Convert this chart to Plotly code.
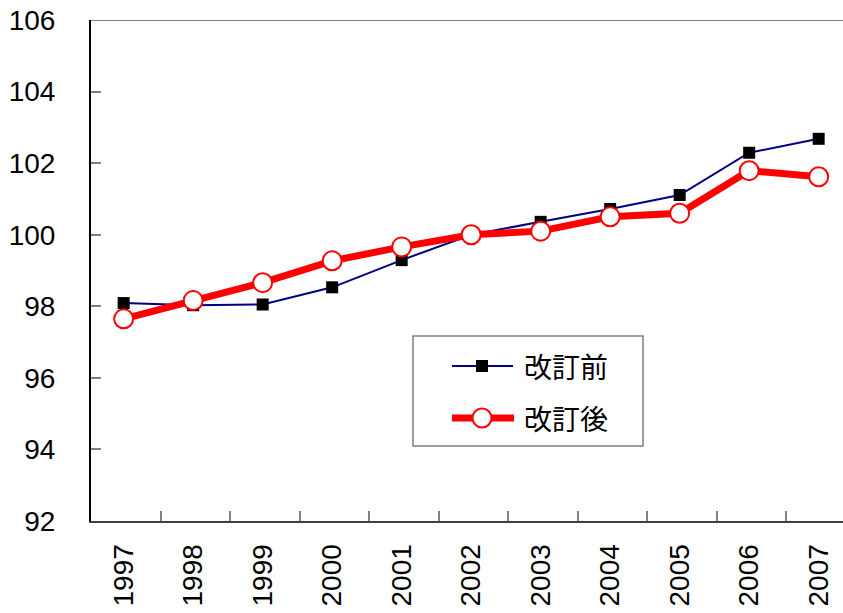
import plotly.graph_objects as go

years = ["1997", "1998", "1999", "2000", "2001", "2002", "2003", "2004", "2005", "2006", "2007"]
before = [98.09, 98.03, 98.05, 98.53, 99.29, 100.0, 100.36, 100.72, 101.11, 102.29, 102.68]
after = [97.65, 98.16, 98.66, 99.27, 99.66, 100.0, 100.10, 100.50, 100.60, 101.79, 101.62]
y_ticks = [92, 94, 96, 98, 100, 102, 104, 106]
series_names = ["改訂前", "改訂後"]

xs = list(range(len(years)))

navy_line = dict(color="#000080", width=2)
sq_marker = dict(symbol="square", size=12, color="black")
red_line = dict(color="#ff0000", width=7)
circ_marker = dict(symbol="circle", size=19, color="white", line=dict(color="#ff0000", width=2))

fig = go.Figure()
fig.add_trace(go.Scatter(x=xs, y=before, name=series_names[0], mode="lines+markers",
                         line=navy_line, marker=sq_marker, showlegend=False))
fig.add_trace(go.Scatter(x=xs, y=after, name=series_names[1], mode="lines+markers",
                         line=red_line, marker=circ_marker, showlegend=False))

# manual legend drawn on an overlay axis measured in pixels of the plot area
fig.add_shape(type="rect", xref="x2", yref="y2", x0=413, x1=643, y0=336, y1=446,
              line=dict(color="#808080", width=1.5), fillcolor="white", layer="below")
fig.add_trace(go.Scatter(x=[452, 482, 513], y=[366, 366, 366], mode="lines",
                         line=navy_line, xaxis="x2", yaxis="y2", showlegend=False, hoverinfo="skip"))
fig.add_trace(go.Scatter(x=[482], y=[366], mode="markers", marker=sq_marker,
                         xaxis="x2", yaxis="y2", showlegend=False, hoverinfo="skip"))
fig.add_trace(go.Scatter(x=[452, 482, 514], y=[418, 418, 418], mode="lines",
                         line=red_line, xaxis="x2", yaxis="y2", showlegend=False, hoverinfo="skip"))
fig.add_trace(go.Scatter(x=[482], y=[418], mode="markers", marker=circ_marker,
                         xaxis="x2", yaxis="y2", showlegend=False, hoverinfo="skip"))
for name, yy in zip(series_names, [366, 418]):
    fig.add_annotation(x=522, y=yy, xref="x2", yref="y2", text=name, showarrow=False,
                       xanchor="left", yanchor="middle",
                       font=dict(family="Noto Sans CJK JP", size=28, color="black"))

fig.add_shape(type="line", xref="paper", yref="y", x0=0, x1=1, y0=106, y1=106,
              line=dict(color="#808080", width=2))

fig.update_layout(
    width=843, height=613,
    margin=dict(l=91, r=0, t=20, b=92),
    plot_bgcolor="white", paper_bgcolor="white",
    font=dict(family="Liberation Sans, Arial, sans-serif", size=28, color="black"),
    showlegend=False,
    xaxis=dict(
        range=[-0.47, 10.35],
        tickmode="array", tickvals=xs, ticktext=years, tickangle=-90,
        showgrid=False, zeroline=False,
        showline=True, linecolor="#404040", linewidth=2,
        ticks="",
        minor=dict(tickmode="array", tickvals=[i + 0.53 for i in xs[:-1]], ticks="inside",
                   ticklen=10, tickcolor="#808080", tickwidth=2),
        ticklabelstandoff=10,
    ),
    yaxis=dict(
        range=[92, 106],
        tickmode="array", tickvals=y_ticks,
        showgrid=False, zeroline=False,
        showline=True, linecolor="black", linewidth=2,
        ticks="inside", ticklen=10, tickcolor="#808080", tickwidth=2,
        ticklabelstandoff=28,
    ),
    xaxis2=dict(overlaying="x", range=[91, 843], visible=False, fixedrange=True),
    yaxis2=dict(overlaying="y", range=[521, 20], visible=False, fixedrange=True),
)

fig.write_html("out.html")
